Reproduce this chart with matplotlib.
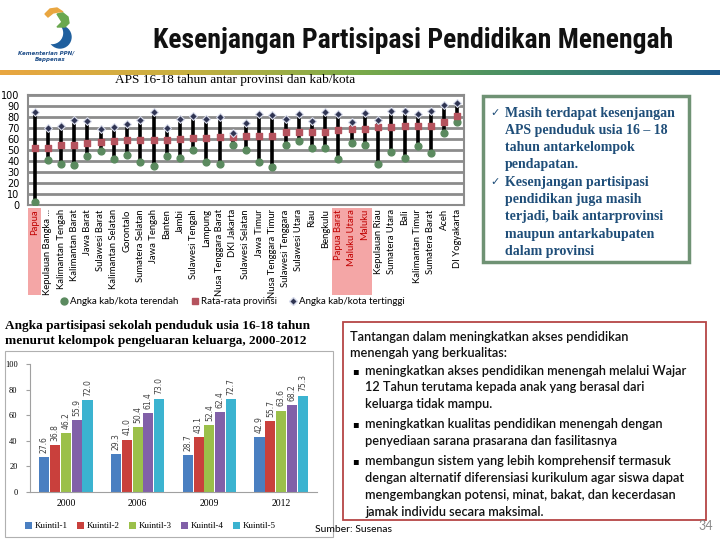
import numpy as np
import matplotlib
matplotlib.use("Agg")
import matplotlib.pyplot as plt
from matplotlib.patches import Rectangle, Polygon, Circle
from matplotlib.lines import Line2D
from matplotlib.colors import LinearSegmentedColormap
import matplotlib.transforms as mtransforms
from matplotlib import font_manager

# --- data: APS 16-18 per province (lowest kab/kota, province mean, highest kab/kota)
provinces = ["Papua", "Kepulauan Bangka ...", "Kalimantan Tengah", "Kalimantan Barat",
             "Jawa Barat", "Sulawesi Barat", "Kalimantan Selatan", "Gorontalo",
             "Sumatera Selatan", "Jawa Tengah", "Banten", "Jambi", "Sulawesi Tengah",
             "Lampung", "Nusa Tenggara Barat", "DKI Jakarta", "Sulawesi Selatan",
             "Jawa Timur", "Nusa Tenggara Timur", "Sulawesi Tenggara", "Sulawesi Utara",
             "Riau", "Bengkulu", "Papua Barat", "Maluku Utara", "Maluku",
             "Kepulauan Riau", "Sumatera Utara", "Bali", "Kalimantan Timur",
             "Sumatera Barat", "Aceh", "DI Yogyakarta"]
aps_low = [2.4, 40.7, 37.3, 36.7, 44.3, 49.5, 41.9, 45.9, 38.8, 35.2, 45.0, 42.5, 49.8,
           38.8, 37.6, 54.1, 50.0, 39.5, 35.0, 54.2, 58.5, 52.0, 52.0, 41.7, 56.6, 54.7,
           37.0, 48.6, 42.5, 53.2, 47.4, 65.4, 75.5]
aps_mean = [51.4, 51.4, 54.1, 55.0, 56.3, 57.2, 58.1, 59.0, 59.0, 59.0, 59.0, 59.9, 60.7,
            60.7, 61.5, 61.5, 62.3, 62.4, 62.4, 66.2, 66.2, 66.2, 66.8, 68.2, 69.1, 69.1,
            70.9, 70.9, 71.9, 71.9, 71.9, 75.8, 81.0]
aps_high = [84.7, 70.3, 71.9, 77.4, 76.5, 69.4, 71.3, 73.4, 77.4, 84.1, 70.3, 78.0, 81.0,
            77.8, 80.0, 65.6, 74.1, 82.8, 81.6, 78.1, 82.8, 76.3, 84.2, 83.1, 75.2, 83.2,
            77.7, 85.9, 85.9, 82.3, 85.0, 91.1, 92.7]
highlight = ["Papua", "Papua Barat", "Maluku Utara", "Maluku"]

# --- data: APS 16-18 by expenditure quintile
years = ["2000", "2006", "2009", "2012"]
kuintil_names = ["Kuintil-1", "Kuintil-2", "Kuintil-3", "Kuintil-4", "Kuintil-5"]
kuintil_1 = [27.6, 29.3, 28.7, 42.9]
kuintil_2 = [36.8, 41.0, 43.1, 55.7]
kuintil_3 = [46.2, 50.4, 52.4, 63.6]
kuintil_4 = [55.9, 61.4, 62.4, 68.2]
kuintil_5 = [72.0, 73.0, 72.7, 75.3]
kuintil_colors = ["#4a7fc1", "#c9403c", "#9bc04a", "#8160a8", "#3bb3d0"]

SERIF = ["Liberation Serif", "DejaVu Serif"]
SANS = ["Lato", "DejaVu Sans"]
installed = {f.name for f in font_manager.fontManager.ttflist}
TITLE_FONT = [f for f in ["Roboto Condensed", "Liberation Sans Narrow", "DejaVu Sans Condensed"]
              if f in installed] or ["Roboto"]

fig = plt.figure(figsize=(7.2, 5.4), dpi=100)

# background layer in pixel coordinates for slide decorations
bg = fig.add_axes([0, 0, 1, 1])
grad = np.linspace(0, 1, 256).reshape(1, -1)
cmap = LinearSegmentedColormap.from_list("band", ["#e9a640", "#c9b040", "#7aaa4a", "#3f8a6a", "#1d5a8c"])
bg.imshow(grad, extent=[0, 720, 75, 70], aspect="auto", cmap=cmap)
bg.set_xlim(0, 720)
bg.set_ylim(540, 0)
bg.axis("off")

# logo (rough)
bg.add_patch(Circle((60, 37), 11, color="#1f5f9e"))
bg.add_patch(Circle((52, 33), 10.5, color="white"))
bg.add_patch(Polygon([(45, 14), (50, 9), (57, 8), (63, 12), (58, 12), (53, 13), (48, 17)],
                     color="#e9a640"))
bg.add_patch(Polygon([(57, 14), (63, 13), (68, 17), (69, 23), (65, 27), (57, 27), (62, 22)],
                     color="#6aa84f"))
bg.text(46, 53, "Kementerian PPN/", fontsize=4, style="italic", color="#1f4e89",
        ha="center", va="center", weight="bold")
bg.text(50, 60, "Bappenas", fontsize=4, style="italic", color="#1f4e89",
        ha="center", va="center", weight="bold")

title_size = 20 if TITLE_FONT[0] != "Roboto" else 15.5
bg.text(413, 40, "Kesenjangan Partisipasi Pendidikan Menengah", fontsize=title_size,
        weight="bold", family=TITLE_FONT + ["DejaVu Sans"], ha="center", va="center",
        color="#111111")
bg.text(115, 80, "APS 16-18 tahun antar provinsi dan kab/kota", fontsize=9.5,
        family=SERIF, ha="left", va="center")

# green note box
bg.add_patch(Rectangle((483, 96), 206, 166, fill=False, ec="#6f9274", lw=2.5))
note_lines = [("\u2713", "Masih terdapat kesenjangan"), ("", "APS penduduk usia 16 \u2013 18"),
              ("", "tahun antarkelompok"), ("", "pendapatan."),
              ("\u2713", "Kesenjangan partisipasi"), ("", "pendidikan juga masih"),
              ("", "terjadi, baik antarprovinsi"), ("", "maupun antarkabupaten"),
              ("", "dalam provinsi")]
for i, (mark, line) in enumerate(note_lines):
    y = 113 + i * 17.3
    if mark:
        bg.text(490, y, mark, fontsize=8, color="#1f4e79", family=["DejaVu Sans"],
                ha="left", va="center")
    bg.text(505, y, line, fontsize=10, color="#1f4e79", family=SERIF,
            weight="bold", ha="left", va="center")

# red challenge box
bg.add_patch(Rectangle((343, 322), 363, 198, fill=False, ec="#b54545", lw=1.3))
chal_lines = [(350, 337, "", "Tantangan dalam meningkatkan akses pendidikan"),
              (350, 353, "", "menengah yang berkualitas:"),
              (365, 371, "\u25aa", "meningkatkan akses pendidikan menengah melalui Wajar"),
              (365, 387, "", "12 Tahun terutama kepada anak yang berasal dari"),
              (365, 404, "", "keluarga tidak mampu."),
              (365, 424, "\u25aa", "meningkatkan kualitas pendidikan menengah dengan"),
              (365, 441, "", "penyediaan sarana prasarana dan fasilitasnya"),
              (365, 461, "\u25aa", "membangun sistem yang lebih komprehensif termasuk"),
              (365, 478, "", "dengan alternatif diferensiasi kurikulum agar siswa dapat"),
              (365, 495, "", "mengembangkan potensi, minat, bakat, dan kecerdasan"),
              (365, 512, "", "jamak individu secara maksimal.")]
for x0, y, mark, line in chal_lines:
    if mark:
        bg.text(352, y, mark, fontsize=7, family=["DejaVu Sans"], ha="left", va="center")
    bg.text(x0, y, line, fontsize=9.2, family=SANS, weight="semibold",
            ha="left", va="center", color="#111111")

bg.text(315, 530, "Sumber: Susenas", fontsize=7.5, family=SANS, ha="left", va="center")
bg.text(713, 526, "34", fontsize=9, color="#8a8a8a", family=SANS, ha="right", va="center")

# bar chart caption + frame
bg.text(5, 326, "Angka partisipasi sekolah penduduk usia 16-18 tahun", fontsize=9.5,
        weight="bold", family=SERIF, ha="left", va="center")
bg.text(5, 341, "menurut kelompok pengeluaran keluarga, 2000-2012", fontsize=9.5,
        weight="bold", family=SERIF, ha="left", va="center")
bg.add_patch(Rectangle((5, 351), 328, 186, fill=False, ec="#b0b0b0", lw=0.8))

# --- dot/range chart per province
ax = fig.add_axes([28 / 720, (540 - 205) / 540, 436 / 720, 110 / 540])
x = np.arange(len(provinces))
ax.vlines(x, aps_low, aps_high, color="black", lw=2.6, zorder=2)
ax.scatter(x, aps_low, marker="o", s=24, color="#5b8a5f", zorder=3)
ax.scatter(x, aps_mean, marker="s", s=16, color="#b5535e", zorder=3)
ax.scatter(x, aps_high, marker="D", s=16, color="#2f3452", edgecolors="#d8dceb",
           linewidths=0.8, zorder=4)
ax.set_xlim(-0.5, len(provinces) - 0.5)
ax.set_ylim(0, 100)
ax.set_yticks(np.arange(0, 101, 10))
ax.grid(axis="y", color="#8c8c8c", lw=2)
ax.set_axisbelow(True)
for sp in ax.spines.values():
    sp.set_color("#8c8c8c")
    sp.set_linewidth(1.5)
ax.tick_params(length=0)
ax.tick_params(axis="y", pad=6, labelsize=7)
ax.set_xticks(x)
ax.set_xticklabels(provinces, rotation=90, fontsize=6.8, family=SANS)
ax.tick_params(axis="x", pad=3)
for lbl in ax.get_xticklabels():
    if lbl.get_text() in highlight:
        lbl.set_color("#c00000")

trans = mtransforms.blended_transform_factory(ax.transData, ax.transAxes)
for i, name in enumerate(provinces):
    if name in highlight:
        ax.add_patch(Rectangle((i - 0.5, -0.82), 1, 0.795, transform=trans,
                               facecolor="#f4a6a6", edgecolor="none",
                               clip_on=False, zorder=0.5))

handles = [Line2D([], [], marker="o", ls="", color="#5b8a5f", markersize=5),
           Line2D([], [], marker="s", ls="", color="#b5535e", markersize=4.5),
           Line2D([], [], marker="D", ls="", color="#2f3452", markeredgecolor="#d8dceb",
                  markersize=4)]
fig.legend(handles, ["Angka kab/kota terendah", "Rata-rata provinsi", "Angka kab/kota tertinggi"],
           loc="center", bbox_to_anchor=(232 / 720, 1 - 302 / 540), ncol=3, frameon=False,
           prop={"family": SANS, "size": 7}, handletextpad=0.1, columnspacing=1.2,
           handlelength=1.0)

# --- grouped bar chart by quintile
bx = fig.add_axes([30 / 720, 48 / 540, 287 / 720, 128 / 540])
pos = np.arange(len(years))
width = 0.15
series = [kuintil_1, kuintil_2, kuintil_3, kuintil_4, kuintil_5]
for k, (vals, col, name) in enumerate(zip(series, kuintil_colors, kuintil_names)):
    bars = bx.bar(pos + (k - 2) * width, vals, width * 0.95, color=col, label=name,
                  edgecolor="none")
    bx.bar_label(bars, labels=[f"{v:.1f}" for v in vals], rotation=90, padding=3,
                 fontsize=5.5, color="#404040")
bx.set_xlim(-0.5, len(years) - 0.5)
bx.set_ylim(0, 100)
bx.set_yticks(np.arange(0, 101, 20))
bx.set_xticks(pos)
bx.set_xticklabels(years, family=SERIF, fontsize=7)
for lbl in bx.get_yticklabels():
    lbl.set_family(SERIF)
bx.tick_params(axis="y", labelsize=6, length=3, color="#a0a0a0", pad=6)
bx.tick_params(axis="x", length=0, pad=5)
bx.spines["top"].set_visible(False)
bx.spines["right"].set_visible(False)
bx.spines["left"].set_color("#a0a0a0")
bx.spines["bottom"].set_color("#a0a0a0")
bx.legend(loc="upper center", bbox_to_anchor=(0.42, -0.17), ncol=5, frameon=False,
          prop={"family": SERIF, "size": 6.5}, handlelength=0.8, handleheight=0.8,
          columnspacing=1.0, handletextpad=0.3)

fig.savefig("out.png", dpi=100)
